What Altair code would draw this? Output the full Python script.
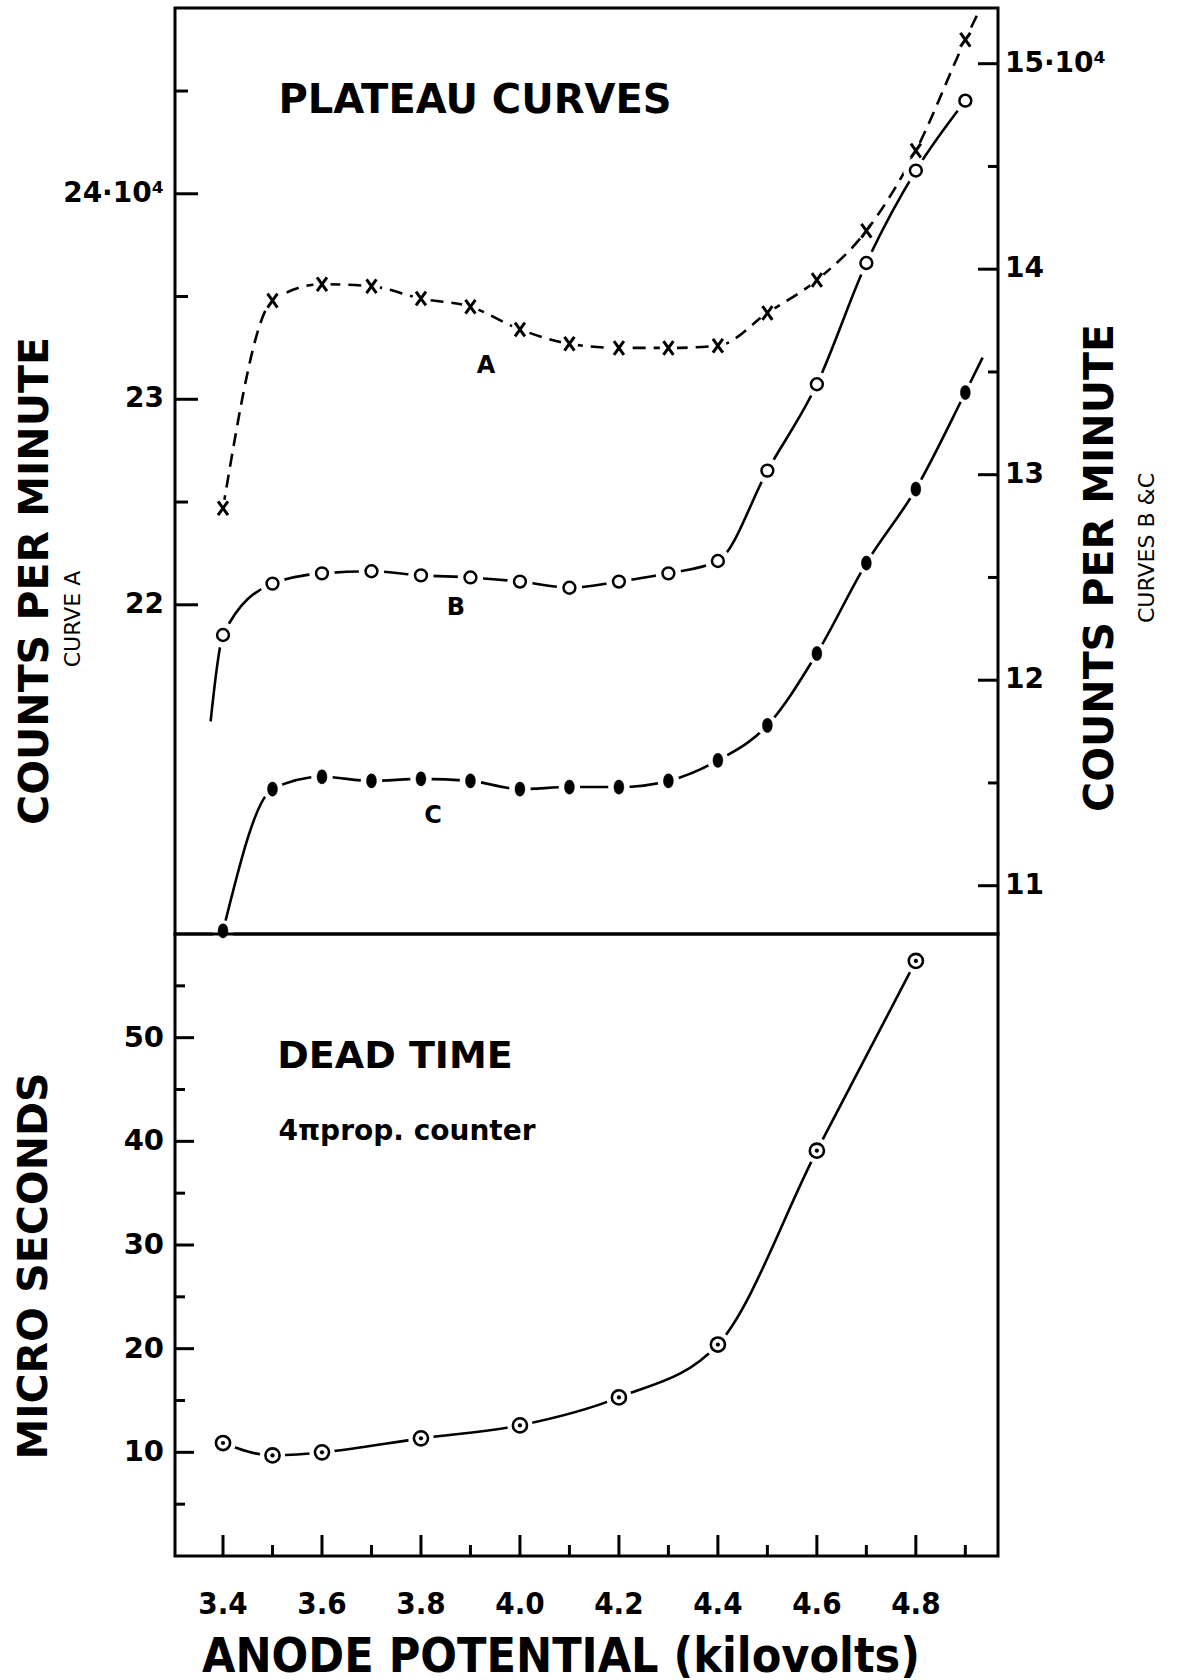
import altair as alt
import pandas as pd

# ---------------- data ----------------
volts = [3.4, 3.5, 3.6, 3.7, 3.8, 3.9, 4.0, 4.1, 4.2, 4.3, 4.4, 4.5, 4.6, 4.7, 4.8, 4.9]
# curve A (counts/min, units of 10^4, left scale)
curve_a = [22.47, 23.48, 23.56, 23.55, 23.49, 23.45, 23.34, 23.27, 23.25, 23.25, 23.26, 23.42, 23.58, 23.82, 24.21, 24.75]
# curves B and C (counts/min, units of 10^4, right scale)
curve_b = [12.22, 12.47, 12.52, 12.53, 12.51, 12.50, 12.48, 12.45, 12.48, 12.52, 12.58, 13.02, 13.44, 14.03, 14.48, 14.82]
curve_c = [10.78, 11.47, 11.53, 11.51, 11.52, 11.51, 11.47, 11.48, 11.48, 11.51, 11.61, 11.78, 12.13, 12.57, 12.93, 13.40]
# where the drawn curves continue past the measured points
a_tail_v, a_tail_y = [4.94], [24.95]
b_head_v, b_head_y = [3.375], [11.80]
c_tail_v, c_tail_y = [4.935], [13.57]

# dead time (micro seconds)
dead_volts = [3.4, 3.5, 3.6, 3.8, 4.0, 4.2, 4.4, 4.6, 4.8]
dead_time = [10.9, 9.7, 10.0, 11.35, 12.6, 15.3, 20.4, 39.1, 57.4]

# axis ticks and tick labels
left_major = [22, 23, 24]
left_labels = ["22", "23", "24·10⁴"]
left_minor = [22.5, 23.5, 24.5]
right_major = [11, 12, 13, 14, 15]
right_labels = ["11", "12", "13", "14", "15·10⁴"]
right_minor = [11.5, 12.5, 13.5, 14.5]
dead_major = [10, 20, 30, 40, 50]
dead_labels = ["10", "20", "30", "40", "50"]
dead_minor = [5, 15, 25, 35, 45, 55]
x_major = [3.4, 3.6, 3.8, 4.0, 4.2, 4.4, 4.6, 4.8]
x_labels = ["3.4", "3.6", "3.8", "4.0", "4.2", "4.4", "4.6", "4.8"]
x_minor = [3.5, 3.7, 3.9, 4.1, 4.3, 4.5, 4.7, 4.9]

# ---------------- layout / style ----------------
W, HT, HB = 823, 926, 622
FONT = "DejaVu Sans"
COND = "DejaVu Sans Condensed"
LW = 2.6

X = alt.Scale(domain=[3.303, 4.966], nice=False, zero=False)
YL = alt.Scale(domain=[20.398, 24.904], nice=False, zero=False)
YR = alt.Scale(domain=[10.765, 15.271], nice=False, zero=False)
YD = alt.Scale(domain=[0, 60], nice=False, zero=False)

ELLIPSE = "M0,-1C0.93,-1 0.93,1 0,1C-0.93,1 -0.93,-1 0,-1Z"
XMARK = "M-0.72,-1L0.72,1M0.72,-1L-0.72,1"

xe = alt.X('v:Q', scale=X, axis=None)


def frame(v, y):
    return pd.DataFrame({'v': v, 'y': y})


def line(df, scale, **kw):
    return alt.Chart(df).mark_line(color='black', strokeWidth=LW, interpolate='monotone', **kw).encode(
        x=xe, y=alt.Y('y:Q', scale=scale, axis=None))


def mask(df, scale, size):
    return alt.Chart(df).mark_point(shape='circle', filled=True, fill='white', stroke='white',
                                    strokeWidth=0, size=size, opacity=1).encode(
        x=xe, y=alt.Y('y:Q', scale=scale, axis=None))


def yticks(vals, scale, x0, x1):
    return alt.Chart(pd.DataFrame({'t': vals})).mark_rule(color='black', strokeWidth=3).encode(
        y=alt.Y('t:Q', scale=scale, axis=None), x=alt.value(x0), x2=alt.value(x1))


def ylabels(vals, texts, scale, x, align, size):
    return alt.Chart(pd.DataFrame({'t': vals, 's': texts})).mark_text(
        font=FONT, fontSize=size, fontWeight='bold', color='black', align=align, baseline='middle').encode(
        y=alt.Y('t:Q', scale=scale, axis=None), x=alt.value(x), text='s:N')


def label(text, x, y, size, font=FONT, angle=0, weight='bold'):
    kw = dict(fontSize=size, font=font, fontWeight=weight, color='black', align='center', baseline='middle')
    if angle:
        kw['angle'] = angle
    return alt.Chart(pd.DataFrame({'s': [text]})).mark_text(**kw).encode(
        text='s:N', x=alt.value(x), y=alt.value(y))


dfA = frame(volts, curve_a)
dfB = frame(volts, curve_b)
dfC = frame(volts, curve_c)
dfA_line = frame(volts + a_tail_v, curve_a + a_tail_y)
dfB_line = frame(b_head_v + volts, b_head_y + curve_b)
dfC_line = frame(volts + c_tail_v, curve_c + c_tail_y)
dfD = frame(dead_volts, dead_time)

# ---------------- top panel: plateau curves ----------------
left_group = alt.layer(
    line(dfA_line, YL, strokeDash=[13, 8], clip=True),
    mask(dfA, YL, 300),
    alt.Chart(dfA).mark_point(shape=XMARK, filled=False, color='black', strokeWidth=3, size=190,
                              opacity=1).encode(x=xe, y=alt.Y('y:Q', scale=YL, axis=None)),
    yticks(left_major, YL, 0, 23),
    yticks(left_minor, YL, 0, 13),
    ylabels(left_major, left_labels, YL, -11, 'right', 28),
)

right_group = alt.layer(
    line(dfB_line, YR),
    line(dfC_line, YR),
    mask(dfB, YR, 640),
    mask(dfC, YR, 460),
    alt.Chart(dfB).mark_point(shape='circle', filled=True, fill='white', stroke='black', strokeWidth=2.5,
                              size=140, opacity=1).encode(x=xe, y=alt.Y('y:Q', scale=YR, axis=None)),
    alt.Chart(dfC).mark_point(shape=ELLIPSE, filled=True, fill='black', stroke='black', strokeWidth=0.5,
                              size=200, opacity=1).encode(x=xe, y=alt.Y('y:Q', scale=YR, axis=None)),
    yticks(right_major, YR, W - 20, W),
    yticks(right_minor, YR, W - 10, W),
    ylabels(right_major, right_labels, YR, W + 7, 'left', 28),
)

top_text = alt.layer(
    label("PLATEAU CURVES", 300, 93, 40),
    label("A", 311, 358, 24),
    label("B", 281, 600, 24),
    label("C", 258, 808, 24),
    label("COUNTS PER MINUTE", -139, 573, 41, angle=270),
    label("CURVE A", -102, 611, 22, angle=270, weight='normal'),
    label("COUNTS PER MINUTE", 926, 560, 41, angle=270),
    label("CURVES B &C", 972, 540, 22, angle=270, weight='normal'),
)

top = alt.layer(left_group, right_group, top_text).resolve_scale(y='independent').properties(width=W, height=HT)

# ---------------- bottom panel: dead time ----------------
bottom = alt.layer(
    alt.Chart(dfD).mark_line(color='black', strokeWidth=LW, interpolate='monotone').encode(
        x=xe, y=alt.Y('y:Q', scale=YD, axis=None)),
    mask(dfD, YD, 640),
    alt.Chart(dfD).mark_point(shape='circle', filled=True, fill='white', stroke='black', strokeWidth=2.6,
                              size=200, opacity=1).encode(x=xe, y=alt.Y('y:Q', scale=YD, axis=None)),
    alt.Chart(dfD).mark_point(shape='circle', filled=True, fill='black', size=18, opacity=1).encode(
        x=xe, y=alt.Y('y:Q', scale=YD, axis=None)),
    yticks(dead_major, YD, 0, 19),
    yticks(dead_minor, YD, 0, 10),
    ylabels(dead_major, dead_labels, YD, -11, 'right', 29),
    alt.Chart(pd.DataFrame({'t': x_major})).mark_rule(color='black', strokeWidth=3).encode(
        x=alt.X('t:Q', scale=X, axis=None), y=alt.value(HB), y2=alt.value(HB - 21)),
    alt.Chart(pd.DataFrame({'t': x_minor})).mark_rule(color='black', strokeWidth=3).encode(
        x=alt.X('t:Q', scale=X, axis=None), y=alt.value(HB), y2=alt.value(HB - 11)),
    alt.Chart(pd.DataFrame({'t': x_major, 's': x_labels})).mark_text(
        font=COND, fontSize=31, fontWeight='bold', color='black', align='center', baseline='top').encode(
        x=alt.X('t:Q', scale=X, axis=None), y=alt.value(HB + 34), text='s:N'),
    label("DEAD TIME", 220, 123, 38),
    label("4πprop. counter", 232, 198, 28),
    label("MICRO SECONDS", -140, 332, 41, angle=270),
    label("ANODE POTENTIAL (kilovolts)", 386, 724, 48, font=COND),
).properties(width=W, height=HB)

chart = alt.vconcat(top, bottom, spacing=0, bounds='flush').properties(
    padding={'left': 12, 'top': 6, 'right': 5, 'bottom': 2},
    background='white',
).configure_view(stroke='black', strokeWidth=3)

chart.save("out.html", embed_options={"renderer": "svg", "actions": False})
